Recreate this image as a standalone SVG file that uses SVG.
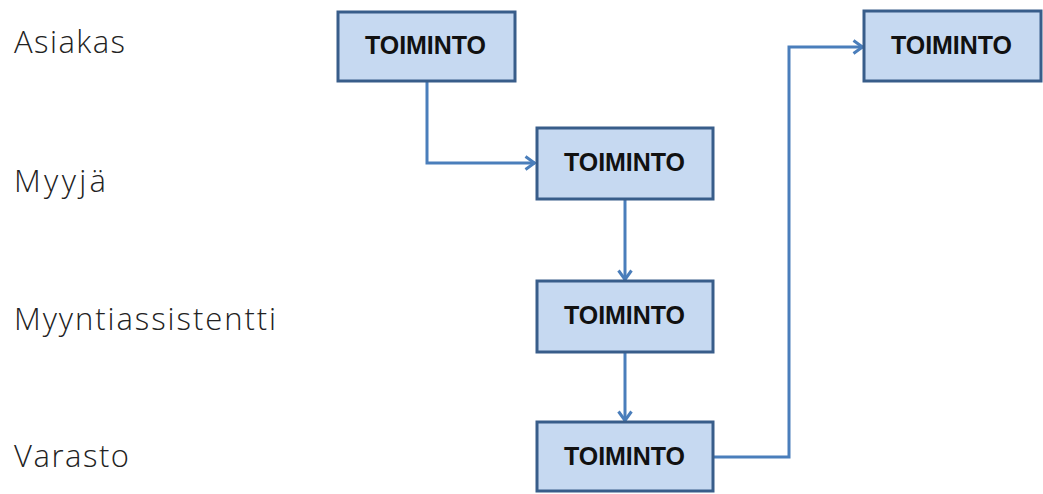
<svg xmlns="http://www.w3.org/2000/svg" width="1043" height="494" viewBox="0 0 1043 494">
  <style>
    .box { fill: #c6d9f1; stroke: #385d8a; stroke-width: 3; }
    .boxtext { font-family: "Liberation Sans", Arial, sans-serif; font-size: 25px; font-weight: bold; fill: #111; text-anchor: middle; letter-spacing: -1px; }
    .lane { font-family: "Open Sans", "Liberation Sans", sans-serif; font-size: 31px; font-weight: 300; fill: #222; }
    .conn { fill: none; stroke: #4a7ebb; stroke-width: 3; marker-end: url(#arrow); }
  </style>
  <defs>
    <marker id="arrow" viewBox="0 0 14 16" refX="12.5" refY="8" markerWidth="14" markerHeight="16" markerUnits="userSpaceOnUse" orient="auto">
      <path d="M3,1.5 L12,8 L3,14.5" fill="none" stroke="#4a7ebb" stroke-width="3"/>
    </marker>
  </defs>
  <rect width="1043" height="494" fill="#ffffff"/>

  <!-- swimlane labels -->
  <g id="lanes">
    <text class="lane" x="14" y="53" textLength="111">Asiakas</text>
    <text class="lane" x="14" y="192" textLength="92">Myyjä</text>
    <text class="lane" x="14" y="330" textLength="262">Myyntiassistentti</text>
    <text class="lane" x="14" y="467" textLength="115">Varasto</text>
  </g>

  <g id="connectors">
    <path class="conn" d="M427,81 V163 H535"/>
    <path class="conn" d="M625,199 V280"/>
    <path class="conn" d="M625,352 V421"/>
    <path class="conn" d="M714,457 H789 V47 H863"/>
  </g>

  <g id="node-asiakas">
    <rect class="box" x="338" y="12" width="177" height="69"/>
    <text class="boxtext" x="425" y="54" textLength="120">TOIMINTO</text>
  </g>
  <g id="node-myyja">
    <rect class="box" x="537" y="128" width="176" height="71"/>
    <text class="boxtext" x="624" y="171" textLength="120">TOIMINTO</text>
  </g>
  <g id="node-myyntiassistentti">
    <rect class="box" x="537" y="281" width="176" height="71"/>
    <text class="boxtext" x="624" y="324" textLength="120">TOIMINTO</text>
  </g>
  <g id="node-varasto">
    <rect class="box" x="537" y="422" width="176" height="69"/>
    <text class="boxtext" x="624" y="465" textLength="120">TOIMINTO</text>
  </g>
  <g id="node-asiakas-2">
    <rect class="box" x="864" y="11" width="177" height="70"/>
    <text class="boxtext" x="951" y="54" textLength="120">TOIMINTO</text>
  </g>
</svg>
